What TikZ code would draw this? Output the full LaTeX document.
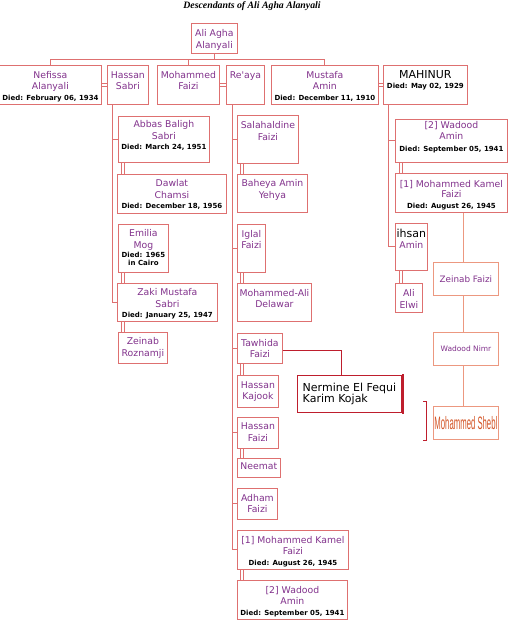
\documentclass[tikz,border=0pt]{standalone}
\usepackage{fontspec}
\setmainfont{DejaVu Sans}
\newfontfamily\titlefont{Liberation Serif}
\newfontfamily\narrowfont{Liberation Sans}
\usepackage{graphicx}

\definecolor{namepurple}{RGB}{130,50,140}
\definecolor{boxred}{RGB}{222,112,112}
\definecolor{darkred}{RGB}{190,30,45}
\definecolor{boxorange}{RGB}{236,152,128}
\definecolor{shebltext}{RGB}{212,86,40}

% died line, black text, name cell
\newcommand{\dd}[1]{{\fontsize{7}{11.5}\selectfont\bfseries\color{black}#1}}
\newcommand{\blk}[1]{{\fontsize{11}{11.5}\selectfont\color{black}#1}}
\newcommand{\cell}[4][4.8]{\parbox[c][#3pt][t]{#2pt}{\centering\vspace*{#1pt}\strut#4}}

\tikzset{
  pbox/.style={draw=boxred, line width=0.8pt, inner sep=0pt, anchor=north west,
    text=namepurple, font=\fontsize{9.3}{11.5}\selectfont},
  obox/.style={draw=boxorange, line width=0.8pt, inner sep=0pt, anchor=north west},
  ln/.style={draw=boxred, line width=0.9pt},
  oln/.style={draw=boxorange, line width=0.9pt},
  dln/.style={draw=darkred, line width=0.8pt},
  spouse/.style={draw=boxred, line width=3.2pt, shorten <=0.4pt, shorten >=0.4pt,
    postaction={draw=white, line width=1.4pt}}
}

\begin{document}
\begin{tikzpicture}[x=1pt, y=-1pt]
\useasboundingbox (0,0) rectangle (508,627);
\fill[white] (0,0) rectangle (508,627);
\node[font=\titlefont\bfseries\itshape\fontsize{9.8}{10}\selectfont] (title) at (252,6) {Descendants of Ali Agha Alanyali};

% first generation
\node[pbox] (root) at (191,23) {\cell[5.4]{46}{30}{Ali Agha\\Alanyali}};
\node[pbox] (nefissa) at (-1,65) {\cell[5]{102}{39}{Nefissa\\Alanyali\\[-1pt]\dd{Died: February 06, 1934}}};
\node[pbox] (hassan) at (107,65) {\cell[5]{41}{39}{Hassan\\Sabri}};
\node[pbox] (mfaizi) at (157,65) {\cell[5]{62}{39}{Mohammed\\Faizi}};
\node[pbox] (reaya) at (226,65) {\cell[5]{38}{39}{Re\textquotesingle aya}};
\node[pbox] (mustafa) at (271,65) {\cell[5]{107}{39}{Mustafa\\Amin\\[-1pt]\dd{Died: December 11, 1910}}};
\node[pbox] (mahinur) at (383,65) {\cell[5]{84}{39}{\blk{MAHINUR}\\[-1.5pt]\dd{Died: May 02, 1929}}};

% Hassan Sabri
\node[pbox] (abbas) at (118,116) {\cell[3.5]{91}{46}{Abbas Baligh\\Sabri\\[-1pt]\dd{Died: March 24, 1951}}};
\node[pbox] (dawlat) at (117,174) {\cell[4.5]{109}{39}{Dawlat\\Chamsi\\[-1pt]\dd{Died: December 18, 1956}}};
\node[pbox] (emilia) at (118,224) {\cell[4.5]{50}{48}{Emilia\\Mog\\[-2pt]\dd{Died: 1965}\\[-4pt]\dd{in Cairo}}};
\node[pbox] (zaki) at (117,283) {\cell[4.5]{100}{38}{Zaki Mustafa\\Sabri\\[-1.5pt]\dd{Died: January 25, 1947}}};
\node[pbox] (zroz) at (118,332) {\cell[4.5]{49}{31}{Zeinab\\Roznamji}};

% Re'aya
\node[pbox] (salah) at (237,115) {\cell[5.5]{61}{48}{Salahaldine\\Faizi}};
\node[pbox] (baheya) at (237,174) {\cell[4.2]{70}{38}{Baheya Amin\\Yehya}};
\node[pbox] (iglal) at (237,224) {\cell{28}{48}{Iglal\\Faizi}};
\node[pbox] (mali) at (237,283) {\cell[5]{74}{38}{Mohammed-Ali\\Delawar}};
\node[pbox] (tawhida) at (237,333) {\cell[5]{45}{30}{Tawhida\\Faizi}};
\node[pbox] (kajook) at (237,375) {\cell[5]{41}{32}{Hassan\\Kajook}};
\node[pbox] (hfaizi) at (237,417) {\cell[4.5]{41}{31}{Hassan\\Faizi}};
\node[pbox] (neemat) at (237,458) {\cell[3.5]{43}{19}{Neemat}};
\node[pbox] (adham) at (237,488) {\cell{40}{31}{Adham\\Faizi}};
\node[pbox] (mkamel) at (237,530) {\cell{111}{39}{[1] Mohammed Kamel\\Faizi\\[-1pt]\dd{Died: August 26, 1945}}};
\node[pbox] (wamin) at (237,580) {\cell{110}{39}{[2] Wadood\\Amin\\[-1pt]\dd{Died: September 05, 1941}}};

% MAHINUR
\node[pbox] (wamin2) at (395,119) {\cell[0.8]{112}{43}{[2] Wadood\\Amin\\\dd{Died: September 05, 1941}}};
\node[pbox] (mkamel2) at (395,173) {\cell[6.3]{112}{39}{[1] Mohammed Kamel\\[-1.5pt]Faizi\\[-1pt]\dd{Died: August 26, 1945}}};
\node[pbox] (ihsan) at (395,223) {\cell[5.5]{32}{47}{\blk{ihsan}\\[-0.5pt]Amin}};
\node[pbox] (alielwi) at (395,283) {\cell[5.5]{27}{29}{Ali\\Elwi}};

\node[obox, minimum width=65pt, minimum height=33pt, text=namepurple,
  font=\fontsize{8.8}{10}\selectfont] (zfaizi) at (433,262) {Zeinab Faizi};
\node[obox, minimum width=65pt, minimum height=33pt, text=namepurple,
  font=\fontsize{7.5}{10}\selectfont] (wnimr) at (433,332) {Wadood Nimr};
\node[obox, minimum width=65pt, minimum height=33pt, text=shebltext] (shebl) at (433,406)
  {\scalebox{0.43}[1]{\narrowfont\fontsize{18}{18}\selectfont Mohammed Shebl}};

\node[draw=darkred, line width=0.8pt, anchor=north west, minimum width=104pt, minimum height=37pt,
  inner sep=0pt, align=left, font=\fontsize{11}{11}\selectfont] (nermine) at (297,375)
  {Nermine El Fequi\\Karim Kojak};

% connectors
\draw[ln] (root.south) -- ++(0,6);
\draw[ln] (nefissa.north) -- ++(0,-6) -| (mustafa.north);
\draw[ln] (mfaizi.north) -- ++(0,-6);
\draw[spouse] (nefissa) -- (hassan);
\draw[spouse] (mfaizi) -- (reaya);
\draw[spouse] (mustafa) -- (mahinur);

\draw[ln] ([xshift=5pt]hassan.south west) |- (abbas.west);
\draw[ln] ([xshift=5pt]hassan.south west) |- (zaki.west);
\draw[spouse] ([xshift=5pt]abbas.south west) -- ([xshift=6pt]dawlat.north west);
\draw[spouse] ([xshift=5pt]emilia.south west) -- ([xshift=6pt]zaki.north west);
\draw[spouse] ([xshift=6pt]zaki.south west) -- ([xshift=5pt]zroz.north west);

\foreach \k in {salah,iglal,tawhida,hfaizi,adham,mkamel}
  \draw[ln] ([xshift=6pt]reaya.south west) |- (\k.west);
\foreach \a/\b in {salah/baheya,iglal/mali,tawhida/kajook,hfaizi/neemat,mkamel/wamin}
  \draw[spouse] ([xshift=5pt]\a.south west) -- ([xshift=5pt]\b.north west);

\draw[ln] ([xshift=5pt]mahinur.south west) |- (wamin2.west);
\draw[ln] ([xshift=5pt]mahinur.south west) |- (ihsan.west);
\draw[spouse] ([xshift=6pt]wamin2.south west) -- ([xshift=6pt]mkamel2.north west);
\draw[spouse] ([xshift=6pt]ihsan.south west) -- ([xshift=6pt]alielwi.north west);

\draw[oln] ([xshift=-2.5pt]zfaizi.north) -- ([xshift=-2.5pt]zfaizi.north |- mkamel2.south);
\draw[oln] ([xshift=-2.5pt]zfaizi.south) -- ([xshift=-2.5pt]wnimr.north);
\draw[oln] ([xshift=-2.5pt]wnimr.south) -- ([xshift=-2.5pt]shebl.north);

\draw[dln] ([yshift=-2pt]tawhida.east) -| ([xshift=-8pt]nermine.north);
\draw[darkred, line width=2pt] ([xshift=1pt,yshift=1pt]nermine.north east) -- ([xshift=1pt,yshift=-1pt]nermine.south east);
\draw[dln] ([xshift=-10pt,yshift=5pt]shebl.north west) -- ++(3,0) |- ([xshift=-10pt,yshift=-1pt]shebl.south west);
\end{tikzpicture}
\end{document}
